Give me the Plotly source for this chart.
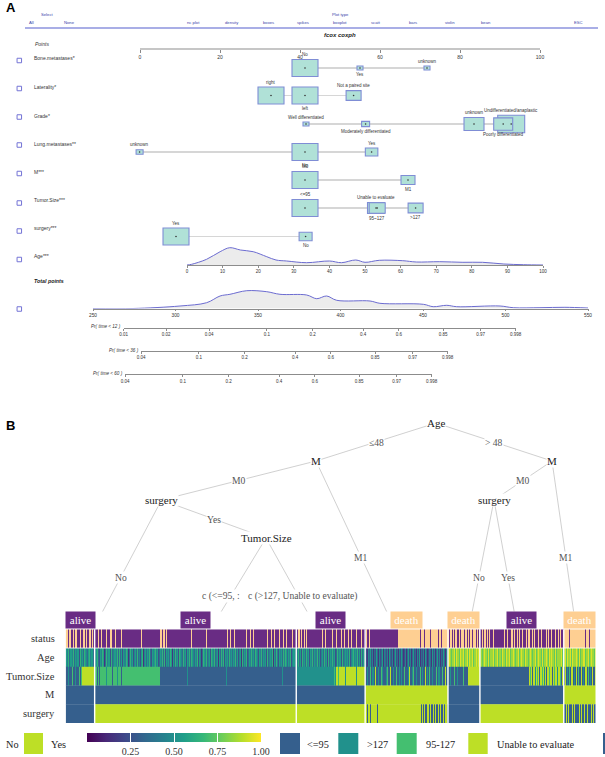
import math
import re
import plotly.graph_objects as go

W, H = 605, 757
SANS = "Liberation Sans, Arial, sans-serif"
SERIF = "Liberation Serif, Times New Roman, serif"

# ======================= DATA =======================
header_items = ["All", "None", "nc plot", "density", "boxes", "spikes", "boxplot",
                "scatt", "bars", "violin", "bean", "ESC"]
header_groups = ["Select", "Plot type"]
model_title = "fcox coxph"

points_ticks = [0, 20, 40, 60, 80, 100]

row_names = ["Bone.metastases*", "Laterality*", "Grade*", "Lung.metastases**",
             "M***", "Tumor.Size***", "surgery***"]

bone_levels = ["No", "Yes", "unknown"]
bone_pts = [41.25, 55.0, 71.75]
bone_freq = [26, 6, 6]

lat_levels = ["right", "left", "Not a paired site"]
lat_pts = [32.75, 41.25, 53.4]
lat_freq = [26, 26, 15]

grade_levels = ["Well differentiated", "Moderately differentiated", "unknown",
                "Undifferentiated/anaplastic", "Poorly differentiated"]
grade_pts = [41.5, 56.4, 83.5, 92.8, 90.8]
grade_freq = [6, 8, 20, 27, 19]

lung_levels = ["unknown", "No", "Yes"]
lung_pts = [-0.1, 41.25, 57.9]
lung_freq = [7, 26, 12.5]

m_levels = ["M0", "M1"]
m_pts = [41.25, 67.0]
m_freq = [26, 14]

size_levels = ["<=95", "Unable to evaluate", "95~127", ">127"]
size_pts = [41.25, 59.0, 59.3, 68.9]
size_freq = [26, 17, 16, 15]

surg_levels = ["Yes", "No"]
surg_pts = [9.0, 41.4]
surg_freq = [26, 13]

age_label = "Age***"
age_ticks = [0, 10, 20, 30, 40, 50, 60, 70, 80, 90, 100]
age_grid = [0, 1.3, 5.5, 9.3, 12, 15, 18.6, 22.4, 25, 28, 33.6, 40, 43.4, 47.4,
            50, 54, 60.6, 64.4, 71, 77.5, 83, 89, 94.5, 100]
age_dens = [0, 0.7, 5.7, 13.3, 17.3, 15, 13.3, 8.3, 5, 4, 2.3, 4, 2.3, 5,
            2.7, 4.7, 4.3, 3, 3.3, 2.7, 2.7, 1, 0.3, 0]

total_ticks = [250, 300, 350, 400, 450, 500, 550]
total_grid = [250, 274.2, 302.7, 318.9, 327, 333, 343.2, 355.3, 363.3, 379.5, 385.6,
              391.6, 397.7, 417.9, 423.9, 450.2, 456.2, 464.4, 470.4, 496.7, 504.7,
              520.9, 536, 550]
total_dens = [0, 0, 2.5, 5.8, 12.5, 14.2, 17.8, 16.8, 14.2, 13.5, 9.8,
              12.5, 8.2, 7.5, 5.2, 4.2, 1.8, 3.2, 1.8, 2.5, 0.8,
              0.8, 1.2, 0.5]

pr_labels = ["Pr( time < 12 )", "Pr( time < 36 )", "Pr( time < 60 )"]
pr12_ticks = [0.01, 0.02, 0.04, 0.1, 0.2, 0.4, 0.6, 0.85, 0.97, 0.998]
pr36_ticks = [0.04, 0.1, 0.2, 0.4, 0.6, 0.85, 0.97, 0.998]
pr60_ticks = [0.04, 0.1, 0.2, 0.4, 0.6, 0.85, 0.97, 0.998]

# ---- tree / heatmap ----
leaf_class = ["alive", "alive", "alive", "death", "death", "alive", "death"]
leaf_n = [29, 202, 69, 83, 32, 84, 32]
hm_rows = ["status", "Age", "Tumor.Size", "M", "surgery"]

status_groups = [
    "O2 P1 O2 P2 O1 P1 O2 P3 O1 P2 O2 P1 O1 P2 O2 P1 O1 P2",
    "P3 O1 P2 O1 P4 O1 P3 O2 P3 O1 P5 O1 P5 P14 O1 P18 O2 P1 O2 P1 O1 P25 O1 P14 O1 P20 "
    "O1 P2 O1 P3 O1 P2 P9 O1 P3 O1 P2 O1 P2 P11 O1 P3 O1 P2 O1 P4 O1 P3 O1 P2 O1 P5 O1 P3",
    "O1 P1 O2 P1 O1 P2 O1 P1 O1 P3 P12 O1 P2 O1 P6 O1 P3 O1 P4 O1 P2 O1 P3 O1 P2 O1 P4 O1 P4 O1 P3",
    "P1 O1 P2 O1 P28 O22 P1 O3 P1 O5 P1 O7 P1 O2 P1 O6",
    "O1 P1 O2 P1 O1 P1 O2 P2 O1 P1 O3 P1 O2 P1 O1 P1 O2 P1 O3 P1 O1 P1 O1",
    "P2 O1 P1 O2 P1 O1 P1 O1 P3 O1 P10 O1 P2 O1 P3 O2 P1 O1 P2 O1 P1 O1 P2 O1 P3 O1 P1 O2 P2 O1 "
    "P1 O1 P3 O1 P2 O1 P4 O1 P1 O1 P2 O1 P3 O1 P2 O1 P1 O1 P3",
    "O5 P1 O15 P1 O3 P1 O6",
]
age_groups = [
    "5463554635 4552645365 435645534",
    "4563254651 3645526345 5463635254 4651364524 5363425614 5354632545 6452354636 "
    "2545365415 3645265436 4525463654 3546254136 5463452654 6345153646 2545364535 "
    "4635245163 5462354645 3654254635 4526345461 5364254536 4653546245 54",
    "5463526453 6452546354 4635245364 5263546452 3645526345 4536245645 463526354",
    "3214352413 2531423514 3241532413 5231425312 4135241352 3142513241 5312431524 1352413253 142",
    "8987889798 8798897889 7988978898 98",
    "8878988797 8889788978 8798879889 7889878897 8988798878 9878897898 8797889879 8988797888 8978",
    "8979889798 8898797889 9788978988 79",
]
size_groups = [
    "A2 B1 A3 C1 A2 B1 A3 C1 A1 C1 D13",
    "C2 A1 C1 A1 C6 B1 C5 A1 C4 B1 C3 A1 C38 A28 B1 A38 B1 A55 B1 A13",
    "B38 C1 B1 D2 C1 D6 B1 D10 B1 D8",
    "AABAACABBA DAABAACBAA ABCAADAABA ACAABABAAC AAABDAABCA ABAAACABAA DABACAABAA ACABBAACAA DAB",
    "AABAAACAAB AAAAACAAAA D12",
    "A49 DCDADDBDCD ADDCDBDADD CDDADCDDBD DCADD",
    "ADABACADDA BADACAADAB ADDACABADA AD",
]
m_groups = ["A29", "A202", "A69", "D83", "A32", "A84", "D32"]
surg_groups = [
    "A29", "D202", "D69",
    "DDADDADDDD DDADDDDDDD D36 ADADAADDAD AADADAADAD AADADDA",
    "A32", "D84",
    "AADADAAADA DAAAADADAA DAADAAADAD AA",
]
size_legend = ["<=95", ">127", "95-127", "Unable to evaluate"]
cbar_ticks = [0.25, 0.5, 0.75, 1.0]

# ======================= STYLE / LAYOUT CONSTANTS =======================
PTS_X0, PTS_X1 = 140.0, 540.0          # pixel span of 0..100 points
PX_PER_PT = (PTS_X1 - PTS_X0) / 100.0
ROW_Y = [68, 95.5, 124, 152, 180, 208, 236.5]
ROW_LABEL_Y = [58, 87, 116, 143.5, 172, 199.5, 228]
CHECK_Y = [60.5, 88.5, 117, 145, 173.5, 203, 231]
SIDES = [["a", "b", "a"], ["a", "b", "a"], ["a", "b", "a", "a", "b"], ["a", "b", "a"],
         ["a", "b"], ["a", "a", "b", "b"], ["a", "b"]]
BOX_FILL, BOX_LINE = "#b0e1d7", "#7f8dd5"
CHK = "#7474d6"
HDR = "#3a44aa"

VIR = {0.3: "#355f8d", 0.5: "#21918c", 0.7: "#44bf70", 0.9: "#bddf26"}
STATUS_COL = {"alive": "#692c84", "death": "#fecf92"}

HM_X0, HM_X1 = 65.7, 595.7
HM_Y0, HM_Y1 = 629.3, 723.0


def rle(s):
    out = []
    for tok in s.split():
        m = re.fullmatch(r"([A-Za-z])(\d+)", tok)
        if m:
            out += [m.group(1)] * int(m.group(2))
        else:
            out += list(tok)
    return out


def fit(lst, n):
    lst = list(lst)
    return (lst + [lst[-1]] * n)[:n]


def g(p):
    return math.log(-math.log(1 - p))


fig = go.Figure()
ann = []
shapes = []

# ======================= PANEL A =======================
ann.append(dict(x=4, y=7, text="<b>A</b>", font=dict(size=13, family=SANS, color="black"),
                xanchor="left", yanchor="middle"))
hx = [31, 69, 193, 232, 268, 303, 340, 376, 413, 450, 486, 578]
for t, x in zip(header_items, hx):
    ann.append(dict(x=x, y=22, text=t, font=dict(size=4.2, color=HDR)))
for t, x in zip(header_groups, [47, 340]):
    ann.append(dict(x=x, y=14.5, text=t, font=dict(size=4.2, color=HDR)))
shapes.append(dict(type="line", xref="x", yref="y", x0=25, x1=598, y0=28, y1=28,
                   line=dict(color="#a9aee6", width=2)))
ann.append(dict(x=340, y=35, text="<b><i>" + model_title + "</i></b>",
                font=dict(size=6, color="#222")))
ann.append(dict(x=33, y=43.6, text="<i>Points</i>", xanchor="left",
                font=dict(size=5, color="#333")))

# points axis (dummy trace to materialise it)
fig.add_trace(go.Scatter(x=points_ticks, y=[49] * len(points_ticks), xaxis="x2", yaxis="y",
                         mode="markers", marker=dict(opacity=0), hoverinfo="skip"))

rows = [(bone_levels, bone_pts, bone_freq), (lat_levels, lat_pts, lat_freq),
        (grade_levels, grade_pts, grade_freq), (lung_levels, lung_pts, lung_freq),
        (m_levels, m_pts, m_freq), (size_levels, size_pts, size_freq),
        (surg_levels, surg_pts, surg_freq)]

# connector "lines" as thin bars (drawn before the boxes)
con_base, con_len, con_y = [], [], []
for (lv, pts, fr), yy in zip(rows, ROW_Y):
    con_base.append(min(pts))
    con_len.append(max(pts) - min(pts))
    con_y.append(yy)
fig.add_trace(go.Bar(orientation="h", base=con_base, x=con_len, y=con_y, width=[0.9] * len(con_y),
                     xaxis="x5", yaxis="y", marker=dict(color="#d6d6d6", line=dict(width=0)),
                     hoverinfo="skip"))

dot_x, dot_y = [], []
for (lv, pts, fr), yy, sides in zip(rows, ROW_Y, SIDES):
    wpt = [f / PX_PER_PT for f in fr]
    hpx = [f * 0.65 for f in fr]
    fig.add_trace(go.Bar(orientation="h", base=[p - w / 2 for p, w in zip(pts, wpt)], x=wpt,
                         y=[yy] * len(pts), width=hpx, xaxis="x5", yaxis="y",
                         marker=dict(color=BOX_FILL, line=dict(color=BOX_LINE, width=1.1)),
                         hoverinfo="skip"))
    for name, p, h, sd in zip(lv, pts, hpx, sides):
        dot_x.append(p)
        dot_y.append(yy)
        if sd == "a":
            ann.append(dict(x=p, y=yy - h / 2 - 0.3, xref="x5", text=name, yanchor="bottom",
                            font=dict(size=4.5, color="#333")))
        else:
            ann.append(dict(x=p, y=yy + h / 2 + 0.3, xref="x5", text=name, yanchor="top",
                            font=dict(size=4.5, color="#333")))
fig.add_trace(go.Scatter(x=dot_x, y=dot_y, xaxis="x5", yaxis="y", mode="markers",
                         marker=dict(size=1.6, color="#333"), hoverinfo="skip"))

for name, ly in zip(row_names + [age_label], ROW_LABEL_Y + [256]):
    ann.append(dict(x=32, y=ly, text=name, xanchor="left", font=dict(size=5, color="#333")))
fig.add_trace(go.Scatter(x=[19.3] * 9, y=CHECK_Y + [259.5, 309], xaxis="x", yaxis="y",
                         mode="markers", marker=dict(symbol="square-open", size=4.5, color=CHK,
                                                     line=dict(width=1, color=CHK)),
                         hoverinfo="skip"))

# Age density + axis
fig.add_trace(go.Scatter(x=age_grid, y=age_dens, xaxis="x3", yaxis="y3", mode="lines",
                         line=dict(color="#6b6bd0", width=1, shape="spline"),
                         fill="tozeroy", fillcolor="#ececec", hoverinfo="skip"))
# Total points density + axis
ann.append(dict(x=32, y=281, text="<b><i>Total points</i></b>", xanchor="left",
                font=dict(size=5.3, color="#222")))
fig.add_trace(go.Scatter(x=total_grid, y=total_dens, xaxis="x4", yaxis="y4", mode="lines",
                         line=dict(color="#6b6bd0", width=1, shape="spline"),
                         fill="tozeroy", fillcolor="#ececec", hoverinfo="skip"))

# Pr scales
PR_PX_PER_UNIT = 61.0
pr_start_px = [123.5, 141.0, 125.0]
pr_line_y = [327.7, 351.0, 374.3]
pr_axes = {}
for k, ticks in enumerate([pr12_ticks, pr36_ticks, pr60_ticks]):
    gv = [g(p) for p in ticks]
    x0 = pr_start_px[k]
    x1 = x0 + PR_PX_PER_UNIT * (gv[-1] - gv[0])
    aid = 6 + k
    pr_axes["xaxis%d" % aid] = dict(
        domain=[x0 / W, x1 / W], range=[gv[0], gv[-1]], anchor="free",
        position=1 - pr_line_y[k] / H, showline=True, linecolor="#8c8c8c", linewidth=0.8,
        ticks="outside", ticklen=2, tickwidth=0.6, tickcolor="#8c8c8c", tickvals=gv,
        ticktext=[str(p) for p in ticks], tickfont=dict(size=4.5, color="#333"),
        showgrid=False, zeroline=False, fixedrange=True)
    fig.add_trace(go.Scatter(x=gv, y=[pr_line_y[k]] * len(gv), xaxis="x%d" % aid, yaxis="y",
                             mode="markers", marker=dict(opacity=0), hoverinfo="skip"))
    ann.append(dict(x=x0 - 0.5, y=pr_line_y[k] - 1, text="<i>" + pr_labels[k] + "</i>",
                    xanchor="right", font=dict(size=4.6, color="#333")))

# ======================= PANEL B =======================
ann.append(dict(x=4, y=425, text="<b>B</b>", font=dict(size=13, family=SANS, color="black"),
                xanchor="left", yanchor="middle"))
N = sum(leaf_n)
cum = [0]
for n in leaf_n:
    cum.append(cum[-1] + n)
leaf_px = [HM_X0 + (cum[i] + leaf_n[i] / 2) / N * (HM_X1 - HM_X0) for i in range(len(leaf_n))]

nodes = {"Age": (436, 423), "ML": (316, 461), "MR": (552, 461), "SL": (161.5, 500),
         "SR": (494, 500), "T": (266, 538)}
node_text = {"Age": "Age", "ML": "M", "MR": "M", "SL": "surgery", "SR": "surgery",
             "T": "Tumor.Size"}
LEAF_Y, BOX_TOP = 654.0, 611.5
# (parent, child, label, label x-shift in px)
edges = [("Age", "ML", "≤48", 0), ("Age", "MR", "> 48", 0), ("ML", "SL", "M0", 0),
         ("ML", 3, "M1", 0), ("SL", 0, "No", 0), ("SL", "T", "Yes", 0),
         ("T", 1, "c (<=95, :", -10), ("T", 2, "c (>127, Unable to evaluate)", 5),
         ("MR", "SR", "M0", 0), ("MR", 6, "M1", 0), ("SR", 4, "No", 0), ("SR", 5, "Yes", 0)]
ex, ey = [], []
edge_ann = []
for par, ch, lab, dx in edges:
    px, py = nodes[par]
    if isinstance(ch, int):
        cx, cy = leaf_px[ch], LEAF_Y
        t = (BOX_TOP - py) / (cy - py)
        endx, endy = px + t * (cx - px), BOX_TOP
    else:
        cx, cy = nodes[ch]
        endx, endy = cx, cy
    ex += [px, endx, None]
    ey += [py, endy, None]
    edge_ann.append(dict(x=(px + cx) / 2 + dx, y=(py + cy) / 2, text=lab, bgcolor="white",
                         borderpad=0, font=dict(size=9.6, family=SERIF, color="#555")))
fig.add_trace(go.Scatter(x=ex, y=ey, xaxis="x", yaxis="y", mode="lines",
                         line=dict(color="#c4c4c4", width=0.8), hoverinfo="skip"))
ann += edge_ann
for k, (x, y) in nodes.items():
    ann.append(dict(x=x, y=y, text=node_text[k], bgcolor="white", borderpad=0,
                    font=dict(size=11, family=SERIF, color="#222")))
for i, cls in enumerate(leaf_class):
    ann.append(dict(x=leaf_px[i], y=619.7, text=cls, bgcolor=STATUS_COL[cls], borderpad=1,
                    width=27 if cls == "alive" else 29, height=14,
                    font=dict(size=11, family=SERIF, color="white")))

# heatmap rows
status_vals, age_vals, size_vals, m_vals, surg_vals = [], [], [], [], []
for i, n in enumerate(leaf_n):
    status_vals += [0 if c == "P" else 1 for c in fit(rle(status_groups[i]), n)]
    age_vals += [(int(c) + 0.5) / 10 for c in fit(list(age_groups[i].replace(" ", "")), n)]
    size_vals += ["ABCD".index(c) for c in fit(rle(size_groups[i]), n)]
    m_vals += [0 if c == "A" else 1 for c in fit(rle(m_groups[i]), n)]
    surg_vals += [0 if c == "A" else 1 for c in fit(rle(surg_groups[i]), n)]
cols = list(range(N))


def disc(colors):
    k = len(colors)
    cs = []
    for i, c in enumerate(colors):
        cs += [[i / k, c], [(i + 1) / k, c]]
    return cs


two = disc([VIR[0.3], VIR[0.9]])
fig.add_trace(go.Heatmap(z=[status_vals], x=cols, y=[0], xaxis="x9", yaxis="y9",
                         colorscale=disc([STATUS_COL["alive"], STATUS_COL["death"]]),
                         zmin=-0.5, zmax=1.5, showscale=False, hoverinfo="skip"))
fig.add_trace(go.Heatmap(z=[age_vals], x=cols, y=[1], xaxis="x9", yaxis="y9",
                         colorscale="Viridis", zmin=0, zmax=1, showscale=True, hoverinfo="skip",
                         colorbar=dict(orientation="h", x=87 / W, xanchor="left",
                                       y=1 - 733 / H, yanchor="top", len=174 / W,
                                       lenmode="fraction", thickness=9, thicknessmode="pixels",
                                       outlinewidth=0, xpad=0, ypad=0, tickvals=cbar_ticks,
                                       ticktext=["%.2f" % v for v in cbar_ticks],
                                       ticks="inside", ticklen=9, tickcolor="white",
                                       tickwidth=0.8,
                                       tickfont=dict(size=10, family=SERIF, color="#333"))))
fig.add_trace(go.Heatmap(z=[size_vals], x=cols, y=[2], xaxis="x9", yaxis="y9",
                         colorscale=disc([VIR[0.3], VIR[0.5], VIR[0.7], VIR[0.9]]),
                         zmin=-0.5, zmax=3.5, showscale=False, hoverinfo="skip"))
fig.add_trace(go.Heatmap(z=[m_vals], x=cols, y=[3], xaxis="x9", yaxis="y9",
                         colorscale=two, zmin=-0.5, zmax=1.5, showscale=False, hoverinfo="skip"))
fig.add_trace(go.Heatmap(z=[surg_vals], x=cols, y=[4], xaxis="x9", yaxis="y9",
                         colorscale=two, zmin=-0.5, zmax=1.5, showscale=False, hoverinfo="skip"))

for b in cum[1:-1]:
    shapes.append(dict(type="line", xref="x9", yref="paper", x0=b - 0.5, x1=b - 0.5,
                       y0=1 - HM_Y1 / H, y1=1 - HM_Y0 / H, line=dict(color="white", width=1.4)))
shapes.append(dict(type="line", xref="x9 domain", yref="y9", x0=0, x1=1, y0=0.5, y1=0.5,
                   line=dict(color="white", width=0.8)))
row_h = (HM_Y1 - HM_Y0) / len(hm_rows)
for i, r in enumerate(hm_rows):
    ann.append(dict(x=57, y=HM_Y0 + (i + 0.5) * row_h, text=r, xanchor="right",
                    font=dict(size=10.5, family=SERIF, color="#333")))

# legend keys
LEG_Y0, LEG_Y1, LEG_TY = 733, 754, 744
leg = [(24, 43, VIR[0.9], "Yes", 48.7),
       (280, 300, VIR[0.3], size_legend[0], 305),
       (338.3, 358.3, VIR[0.5], size_legend[1], 365),
       (396.7, 416.7, VIR[0.7], size_legend[2], 423.5),
       (468.3, 487.7, VIR[0.9], size_legend[3], 494.5),
       (603, 623, VIR[0.3], None, None)]
for x0, x1, c, t, tx in leg:
    shapes.append(dict(type="rect", xref="x", yref="y", x0=x0, x1=x1, y0=LEG_Y0, y1=LEG_Y1,
                       fillcolor=c, line=dict(width=0)))
    if t:
        ann.append(dict(x=tx, y=LEG_TY, text=t, xanchor="left",
                        font=dict(size=10.3, family=SERIF, color="#222")))
ann.append(dict(x=3.5, y=LEG_TY, text="No", xanchor="left",
                font=dict(size=10.3, family=SERIF, color="#222")))

# default annotation refs
for a in ann:
    a.setdefault("xref", "x")
    a.setdefault("yref", "y")
    a.setdefault("showarrow", False)
    a.setdefault("xanchor", "center")
    a.setdefault("yanchor", "middle")
    a["font"].setdefault("family", SANS)

hidden = dict(visible=False, showgrid=False, zeroline=False, fixedrange=True)
layout = dict(
    width=W, height=H, margin=dict(l=0, r=0, t=0, b=0, autoexpand=False),
    paper_bgcolor="white",
    plot_bgcolor="rgba(0,0,0,0)", showlegend=False, barmode="overlay",
    font=dict(family=SANS),
    xaxis=dict(domain=[0, 1], range=[0, W], anchor="y", **hidden),
    yaxis=dict(domain=[0, 1], range=[H, 0], anchor="x", **hidden),
    xaxis2=dict(domain=[PTS_X0 / W, PTS_X1 / W], range=[0, 100], anchor="free",
                position=1 - 49.4 / H, showline=True, linecolor="#c6c6c6", linewidth=2,
                ticks="outside", ticklen=3, tickwidth=0.7, tickcolor="#888",
                tickvals=points_ticks, tickfont=dict(size=5, color="#333"),
                showgrid=False, zeroline=False, fixedrange=True),
    xaxis5=dict(domain=[0, 1], range=[(0 - PTS_X0) / PX_PER_PT, (W - PTS_X0) / PX_PER_PT],
                anchor="y", **hidden),
    xaxis3=dict(domain=[187 / W, 543 / W], range=[0, 100], anchor="y3", showline=True,
                linecolor="#8c8c8c", linewidth=0.8, ticks="outside", ticklen=2, tickwidth=0.6,
                tickcolor="#8c8c8c", tickvals=age_ticks, tickfont=dict(size=4.5, color="#333"),
                showgrid=False, zeroline=False, fixedrange=True),
    yaxis3=dict(domain=[1 - 265 / H, 1 - 244.5 / H], range=[0, 20.5], anchor="x3", **hidden),
    xaxis4=dict(domain=[93 / W, 588 / W], range=[250, 550], anchor="y4", showline=True,
                linecolor="#8c8c8c", linewidth=0.8, ticks="outside", ticklen=2, tickwidth=0.6,
                tickcolor="#8c8c8c", tickvals=total_ticks, tickfont=dict(size=4.8, color="#333"),
                showgrid=False, zeroline=False, fixedrange=True),
    yaxis4=dict(domain=[1 - 308.5 / H, 1 - 288 / H], range=[0, 20.5], anchor="x4", **hidden),
    xaxis9=dict(domain=[HM_X0 / W, HM_X1 / W], range=[-0.5, N - 0.5], anchor="y9", **hidden),
    yaxis9=dict(domain=[1 - HM_Y1 / H, 1 - HM_Y0 / H], range=[4.5, -0.5], anchor="x9", **hidden),
    annotations=ann, shapes=shapes,
)
layout.update(pr_axes)
fig.update_layout(**layout)
fig.write_html("out.html", config={"displayModeBar": False},
               post_script="document.body.style.margin='0px';document.body.style.overflow='hidden';")
